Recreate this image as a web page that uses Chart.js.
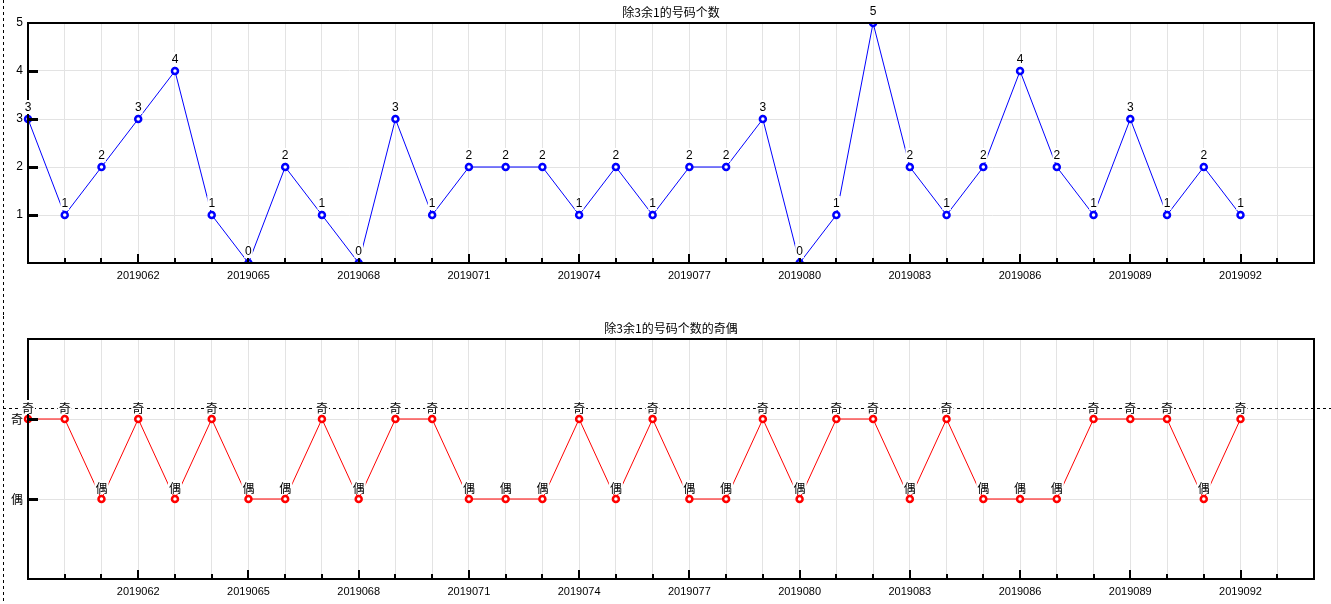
<!DOCTYPE html>
<html>
<head>
<meta charset="utf-8">
<script src="https://cdn.jsdelivr.net/npm/chart.js@4/dist/chart.umd.min.js"></script>
<style>
  html,body{margin:0;padding:0;background:#fff;}
  body{width:1331px;height:604px;position:relative;overflow:hidden;}
  canvas{position:absolute;left:0;display:block;}
</style>
</head>
<body>
<canvas id="c1" width="1331" height="316" style="top:0"></canvas>
<canvas id="c2" width="1331" height="288" style="top:316px"></canvas>
<script>
// ---- data ----
const periods = ['2019059','2019060','2019061','2019062','2019063','2019064','2019065','2019066','2019067','2019068',
  '2019069','2019070','2019071','2019072','2019073','2019074','2019075','2019076','2019077','2019078',
  '2019079','2019080','2019081','2019082','2019083','2019084','2019085','2019086','2019087','2019088',
  '2019089','2019090','2019091','2019092','2019093','2019094'];
const shownLabels = ['2019062','2019065','2019068','2019071','2019074','2019077','2019080','2019083','2019086','2019089','2019092'];
const countValues = [3,1,2,3,4,1,0,2,1,0,3,1,2,2,2,1,2,1,2,2,3,0,1,5,2,1,2,4,2,1,3,1,2,1];
const parityValues = [1,1,0,1,0,1,0,0,1,0,1,1,0,0,0,1,0,1,0,0,1,0,1,1,0,1,0,0,0,1,1,1,0,1];
const parityNames = ['偶','奇'];
const countTicks = [1,2,3,4,5];
const topTitle = '除3余1的号码个数';
const bottomTitle = '除3余1的号码个数的奇偶';
const refLineValue = 1.1375;

const GRID = '#e3e3e3';
const NUMFONT = '12px "Liberation Sans", Arial, sans-serif';
const CJKFONT = '12px "Noto Sans CJK SC", sans-serif';

const decor = {
  id: 'decor',
  afterDraw(chart, args, o) {
    const ctx = chart.ctx, a = chart.chartArea, xs = chart.scales.x, ys = chart.scales.y;
    ctx.save();
    if (o.refLine !== undefined) {
      const py = Math.round(ys.getPixelForValue(o.refLine)) + 0.5;
      ctx.strokeStyle = '#000'; ctx.lineWidth = 1; ctx.setLineDash([3,3]);
      ctx.beginPath(); ctx.moveTo(3, py); ctx.lineTo(chart.width, py); ctx.stroke();
    }
    ctx.strokeStyle = '#000'; ctx.lineWidth = 1; ctx.setLineDash([3,3]);
    ctx.beginPath(); ctx.moveTo(3.5, 0); ctx.lineTo(3.5, chart.height); ctx.stroke();
    ctx.setLineDash([]);
    ctx.lineWidth = 2; ctx.strokeStyle = '#000';
    ctx.strokeRect(Math.round(a.left), Math.round(a.top), Math.round(a.right - a.left), Math.round(a.bottom - a.top));
    for (let i = 1; i < periods.length - 1; i++) {
      const px = Math.round(xs.getPixelForValue(i));
      const major = shownLabels.includes(periods[i]);
      ctx.beginPath(); ctx.moveTo(px, a.bottom); ctx.lineTo(px, a.bottom - (major ? 9 : 5)); ctx.stroke();
    }
    ctx.lineWidth = 3;
    ys.ticks.forEach(t => {
      const py = Math.round(ys.getPixelForValue(t.value)) + 0.5;
      if (py > a.top + 2 && py < a.bottom - 2) {
        ctx.beginPath(); ctx.moveTo(a.left, py); ctx.lineTo(a.left + 10, py); ctx.stroke();
      }
    });
    ctx.fillStyle = '#000'; ctx.font = CJKFONT; ctx.textAlign = 'center'; ctx.textBaseline = 'middle';
    ctx.fillText(o.title, (a.left + a.right) / 2, 12);
    const meta = chart.getDatasetMeta(0);
    const data = chart.data.datasets[0].data;
    ctx.font = o.labelFont;
    meta.data.forEach((pt, i) => {
      const txt = o.labelFn(data[i]);
      const w = ctx.measureText(txt).width;
      const cy = pt.y - 12;
      ctx.fillStyle = '#fff';
      ctx.fillRect(pt.x - w / 2 - 1, cy - 7, w + 2, 14);
      ctx.fillStyle = '#000';
      ctx.fillText(txt, pt.x, cy + 1);
    });
    ctx.restore();
  }
};

function makeChart(id, values, color, yCfg, xHeight, pluginOpts) {
  return new Chart(document.getElementById(id), {
    type: 'line',
    data: {
      labels: periods,
      datasets: [{
        data: values,
        borderColor: color,
        borderWidth: 1,
        pointRadius: 3,
        pointBorderWidth: 2.5,
        pointBackgroundColor: '#fff',
        pointBorderColor: color,
        tension: 0,
        fill: false
      }]
    },
    options: {
      responsive: false,
      animation: false,
      devicePixelRatio: 1,
      layout: { padding: { top: 23, right: 17, left: 0, bottom: 0 } },
      plugins: { legend: { display: false }, tooltip: { enabled: false }, title: { display: false }, decor: pluginOpts },
      scales: {
        x: {
          type: 'category',
          offset: false,
          grid: { color: GRID, drawTicks: false, lineWidth: 1 },
          border: { display: false },
          ticks: {
            autoSkip: false, maxRotation: 0, padding: 6, color: '#000',
            font: { family: '"Liberation Sans", Arial, sans-serif', size: 11 },
            callback: function (v, i) { const l = periods[i]; return shownLabels.includes(l) ? l : ''; }
          },
          afterFit: s => { s.height = xHeight; }
        },
        y: Object.assign({
          grid: { color: GRID, drawTicks: false, lineWidth: 1 },
          border: { display: false },
          afterFit: s => { s.width = 28; }
        }, yCfg)
      }
    },
    plugins: [decor]
  });
}

makeChart('c1', countValues, '#0000ff', {
  min: 0, max: 5,
  afterBuildTicks: s => { s.ticks = countTicks.map(v => ({ value: v })); },
  ticks: { padding: 5, color: '#000', font: { family: '"Liberation Sans", Arial, sans-serif', size: 12 },
    callback: v => String(v) }
}, 316 - 263, { title: topTitle, labelFont: NUMFONT, labelFn: v => String(v) });

makeChart('c2', parityValues, '#ff0000', {
  min: -1, max: 2,
  afterBuildTicks: s => { s.ticks = [{ value: 0 }, { value: 1 }]; },
  ticks: { padding: 5, color: '#000', font: { family: '"Noto Sans CJK SC", sans-serif', size: 12 },
    callback: v => parityNames[v] }
}, 288 - 263, { title: bottomTitle, labelFont: CJKFONT, labelFn: v => parityNames[v], refLine: refLineValue });
</script>
</body>
</html>
